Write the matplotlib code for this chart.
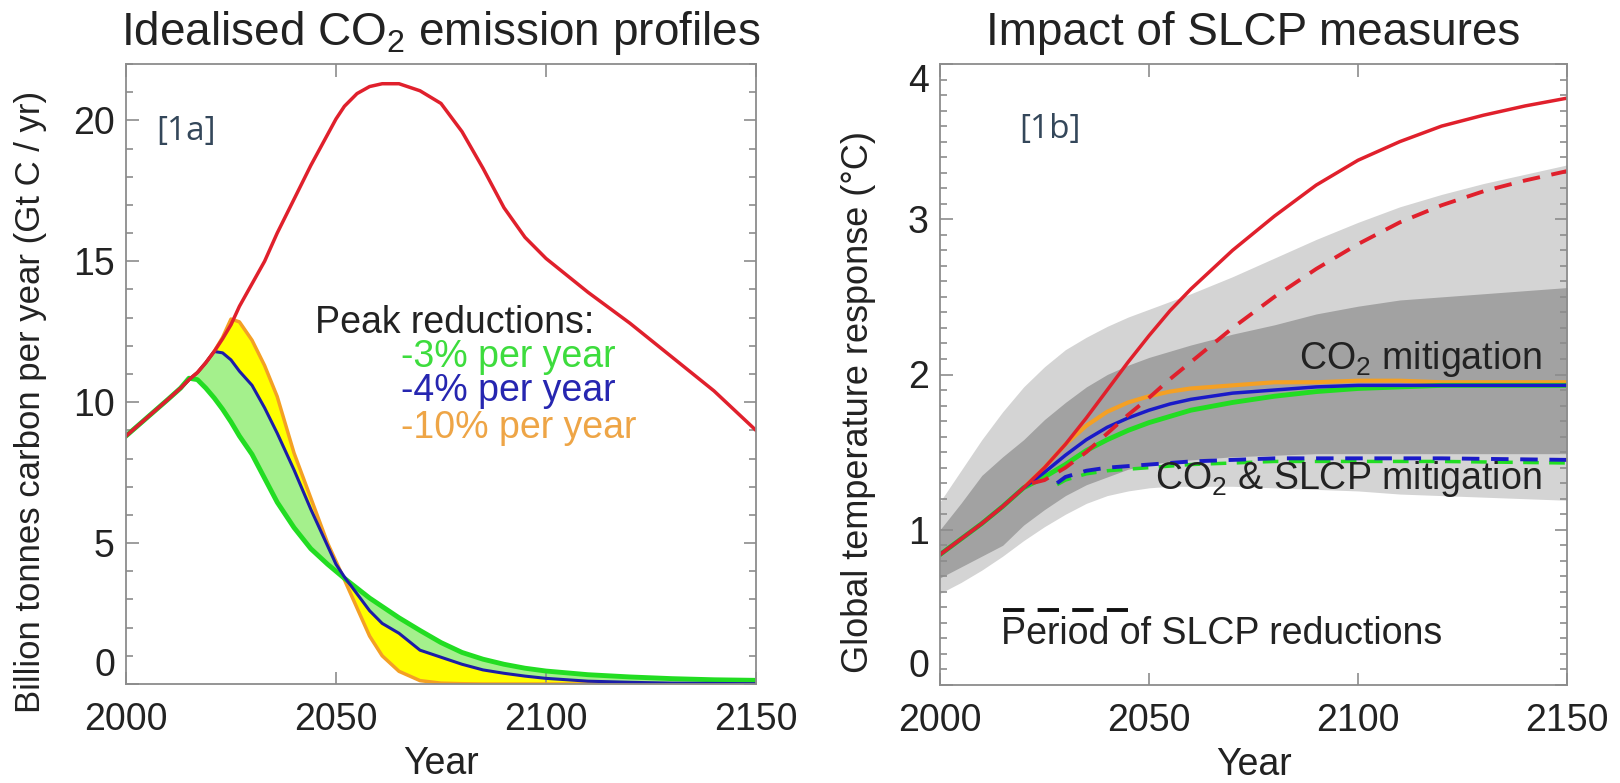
import matplotlib
matplotlib.use("Agg")
import matplotlib.pyplot as plt
from matplotlib.ticker import MultipleLocator

plt.rcParams['font.family'] = ['Liberation Sans', 'DejaVu Sans']
plt.rcParams['mathtext.fontset'] = 'custom'
plt.rcParams['mathtext.rm'] = 'Liberation Sans'
plt.rcParams['mathtext.it'] = 'Liberation Sans:italic'

# ---- panel 1a: idealised emission profiles (Gt C / yr)
yr_a = [2000, 2005, 2010, 2013, 2015, 2017, 2019, 2021, 2023, 2025, 2027, 2030, 2033, 2036,
        2040, 2044, 2048, 2050, 2052, 2055, 2058, 2061, 2065, 2070, 2075, 2080, 2085, 2090,
        2095, 2100, 2110, 2120, 2130, 2140, 2150]
baseline = [8.8, 9.45, 10.1, 10.5, 10.8, 11.05, 11.4, 11.8, 12.25, 12.75, 13.4, 14.2, 15.0, 16.0,
            17.2, 18.4, 19.5, 20.05, 20.5, 20.95, 21.2, 21.3, 21.3, 21.05, 20.6, 19.6, 18.3, 16.9,
            15.85, 15.1, 13.9, 12.8, 11.6, 10.4, 9.0]
cut3 = [8.8, 9.45, 10.1, 10.5, 10.85, 10.8, 10.5, 10.15, 9.75, 9.3, 8.8, 8.15, 7.3, 6.45,
        5.55, 4.8, 4.25, 4.0, 3.75, 3.4, 3.05, 2.75, 2.35, 1.9, 1.47, 1.12, 0.88, 0.7,
        0.56, 0.46, 0.33, 0.25, 0.19, 0.15, 0.13]
cut4 = [8.8, 9.45, 10.1, 10.5, 10.8, 11.05, 11.4, 11.8, 11.75, 11.5, 11.1, 10.6, 9.8, 8.9,
        7.6, 6.2, 4.9, 4.25, 3.8, 3.2, 2.6, 2.15, 1.8, 1.2, 0.95, 0.7, 0.5, 0.38,
        0.28, 0.2, 0.1, 0.06, 0.03, 0.02, 0.01]
cut10 = [8.8, 9.45, 10.1, 10.5, 10.8, 11.05, 11.4, 11.8, 12.3, 12.95, 12.85, 12.2, 11.3, 10.2,
         8.2, 6.6, 5.0, 4.35, 3.7, 2.7, 1.7, 1.0, 0.45, 0.12, 0.03, 0.01, 0.0, 0.0,
         0.0, 0.0, 0.0, 0.0, 0.0, 0.0, 0.0]

# ---- panel 1b: temperature response (deg C)
yr_b = [2000, 2005, 2010, 2015, 2020, 2025, 2030, 2035, 2040, 2045, 2050, 2055, 2060, 2070,
        2080, 2090, 2100, 2110, 2120, 2130, 2140, 2150]
light_hi = [1.18, 1.38, 1.58, 1.76, 1.92, 2.05, 2.16, 2.24, 2.31, 2.37, 2.42, 2.47, 2.52, 2.63,
            2.75, 2.87, 2.98, 3.08, 3.16, 3.23, 3.29, 3.35]
light_lo = [0.59, 0.66, 0.74, 0.83, 0.93, 1.02, 1.10, 1.17, 1.22, 1.25, 1.27, 1.28, 1.28, 1.28,
            1.27, 1.26, 1.25, 1.23, 1.22, 1.21, 1.20, 1.19]
dark_hi = [1.0, 1.17, 1.35, 1.47, 1.58, 1.71, 1.82, 1.92, 2.0, 2.06, 2.11, 2.15, 2.19, 2.26,
           2.32, 2.39, 2.44, 2.48, 2.50, 2.52, 2.54, 2.56]
dark_lo = [0.69, 0.76, 0.83, 0.90, 1.03, 1.13, 1.22, 1.29, 1.34, 1.39, 1.42, 1.44, 1.45, 1.47,
           1.48, 1.49, 1.49, 1.49, 1.49, 1.49, 1.49, 1.49]
temp_base = [0.84, 0.94, 1.04, 1.15, 1.27, 1.40, 1.55, 1.72, 1.90, 2.08, 2.25, 2.41, 2.55, 2.80,
             3.02, 3.22, 3.38, 3.50, 3.60, 3.67, 3.73, 3.78]
temp_co2_3 = [0.84, 0.94, 1.04, 1.15, 1.27, 1.34, 1.42, 1.51, 1.58, 1.64, 1.69, 1.73, 1.77, 1.82,
              1.86, 1.89, 1.91, 1.92, 1.93, 1.93, 1.93, 1.93]
temp_co2_4 = [0.84, 0.94, 1.04, 1.15, 1.27, 1.37, 1.48, 1.58, 1.66, 1.72, 1.77, 1.81, 1.84, 1.88,
              1.90, 1.92, 1.93, 1.93, 1.93, 1.93, 1.93, 1.93]
temp_co2_10 = [0.84, 0.94, 1.04, 1.15, 1.27, 1.40, 1.55, 1.67, 1.76, 1.82, 1.86, 1.89, 1.91, 1.93,
               1.95, 1.95, 1.96, 1.96, 1.95, 1.95, 1.95, 1.95]
yr_slcp = [2022, 2025, 2030, 2035, 2040, 2045, 2050, 2055, 2060, 2070, 2080, 2090, 2100, 2110,
           2120, 2130, 2140, 2150]
temp_base_slcp = [1.30, 1.32, 1.40, 1.50, 1.62, 1.74, 1.85, 1.97, 2.08, 2.30, 2.50, 2.68, 2.84,
                  2.98, 3.09, 3.18, 3.25, 3.31]
yr_both = [2028, 2030, 2035, 2040, 2050, 2060, 2070, 2080, 2100, 2120, 2150]
temp_both = [1.30, 1.34, 1.38, 1.40, 1.42, 1.44, 1.45, 1.46, 1.46, 1.46, 1.45]
temp_both_3 = [1.29, 1.32, 1.36, 1.38, 1.40, 1.42, 1.43, 1.44, 1.44, 1.44, 1.43]
slcp_period = [2015, 2045]
slcp_marker = 0.48

RED = '#e0202c'
GREEN = '#22dd22'
BLUE = '#1c1ca8'
ORANGE = '#f4a024'
SPINE = '#8c8c8c'
TXT = '#222222'
DASH = (0, (4.5, 3))

fig = plt.figure(figsize=(16.2, 7.83), dpi=100)
ax1 = fig.add_axes([126 / 1620, 99 / 783, 630 / 1620, 620 / 783])
ax2 = fig.add_axes([940 / 1620, 98 / 783, 627 / 1620, 621 / 783])


def style(ax, ymax, ymaj, ymin):
    ax.set_xlim(2000, 2150)
    ax.set_ylim(0, ymax)
    ax.xaxis.set_major_locator(MultipleLocator(50))
    ax.yaxis.set_major_locator(MultipleLocator(ymaj))
    ax.yaxis.set_minor_locator(MultipleLocator(ymin))
    ax.tick_params(which='both', direction='in', top=True, right=True, color=SPINE,
                   labelsize=27, labelcolor=TXT, width=1.2)
    ax.tick_params(which='major', length=9, pad=13)
    ax.tick_params(axis='y', which='major', pad=8)
    ax.tick_params(which='minor', length=5)
    for s in ax.spines.values():
        s.set_color(SPINE)
        s.set_linewidth(1.3)
    ax.set_xlabel('Year', fontsize=27, color=TXT)
    ax.xaxis.set_label_coords(0.5, -0.1)


# panel a
style(ax1, 22, 5, 1)
ax1.fill_between(yr_a, cut3, cut4, color='#a4f08c', lw=0)
ax1.fill_between(yr_a, cut4, cut10, color='#ffff00', lw=0)
ax1.plot(yr_a, cut10, color=ORANGE, lw=2.5)
ax1.plot(yr_a, cut3, color=GREEN, lw=3.5)
ax1.plot(yr_a, cut4, color=BLUE, lw=2.2)
ax1.plot(yr_a, baseline, color=RED, lw=2.5)
ax1.text(2007.3, 19.6, '[1a]', fontsize=24, color='#34475a', va='center',
         family=['Open Sans', 'DejaVu Sans'])
ax1.text(2045, 12.8, 'Peak reductions:', fontsize=27, color=TXT, va='center')
ax1.text(2065.5, 11.6, '-3% per year', fontsize=27, color='#3ddc3d', va='center')
ax1.text(2065.5, 10.4, '-4% per year', fontsize=27, color='#2626b0', va='center')
ax1.text(2065.5, 9.1, '-10% per year', fontsize=27, color='#eea546', va='center')
ax1.set_ylabel('Billion tonnes carbon per year (Gt C / yr)', fontsize=25, color=TXT)
ax1.yaxis.set_label_coords(-0.125, 0.455)
fig.text(441 / 1620, 1 - 33 / 783, 'Idealised CO$_2$ emission profiles', fontsize=33,
         color=TXT, ha='center', va='center')

# panel b
style(ax2, 4.0, 1, 0.1)
ax2.fill_between(yr_b, light_lo, light_hi, color='#d4d4d4', lw=0)
ax2.fill_between(yr_b, dark_lo, dark_hi, color='#a2a2a2', lw=0)
ax2.plot(yr_b, temp_co2_10, color=ORANGE, lw=3)
ax2.plot(yr_b, temp_co2_3, color=GREEN, lw=3.5)
ax2.plot(yr_b, temp_co2_4, color='#1a1ac8', lw=2.5)
ax2.plot(yr_both, temp_both_3, color=GREEN, lw=2.5, ls=DASH)
ax2.plot(yr_both, temp_both, color='#1a1ac8', lw=2.8, ls=DASH)
ax2.plot(yr_slcp, temp_base_slcp, color=RED, lw=2.8, ls=DASH)
ax2.plot(yr_b, temp_base, color=RED, lw=2.5)
ax2.plot(slcp_period, [slcp_marker] * 2, color='#111111', lw=2.8, ls=(0, (5.5, 3.4)))
ax2.text(2014.5, 0.33, 'Period of SLCP reductions', fontsize=27, color=TXT, va='center')
ax2.text(2144, 2.1, 'CO$_2$ mitigation', fontsize=27, color=TXT, ha='right', va='center')
ax2.text(2144, 1.33, 'CO$_2$ & SLCP mitigation', fontsize=27, color=TXT, ha='right', va='center')
ax2.text(2019, 3.58, '[1b]', fontsize=24, color='#34475a', va='center',
         family=['Open Sans', 'DejaVu Sans'])
ax2.set_ylabel('Global temperature response (\u00b0C)', fontsize=26, color=TXT)
ax2.yaxis.set_label_coords(-0.102, 0.455)
fig.text(1253 / 1620, 1 - 33 / 783, 'Impact of SLCP measures', fontsize=33,
         color=TXT, ha='center', va='center')

# IDL-like placement of the end labels on the y axes (ticks exist only after a draw)
fig.canvas.draw()
for ax in (ax1, ax2):
    ticks = ax.yaxis.get_major_ticks()
    locs = ax.yaxis.get_majorticklocs()
    for t, v in zip(ticks, locs):
        if v == 0:
            t.label1.set_verticalalignment('bottom')
        if ax is ax2 and v == 4:
            t.label1.set_verticalalignment('top')

fig.savefig('out.png', dpi=100)
